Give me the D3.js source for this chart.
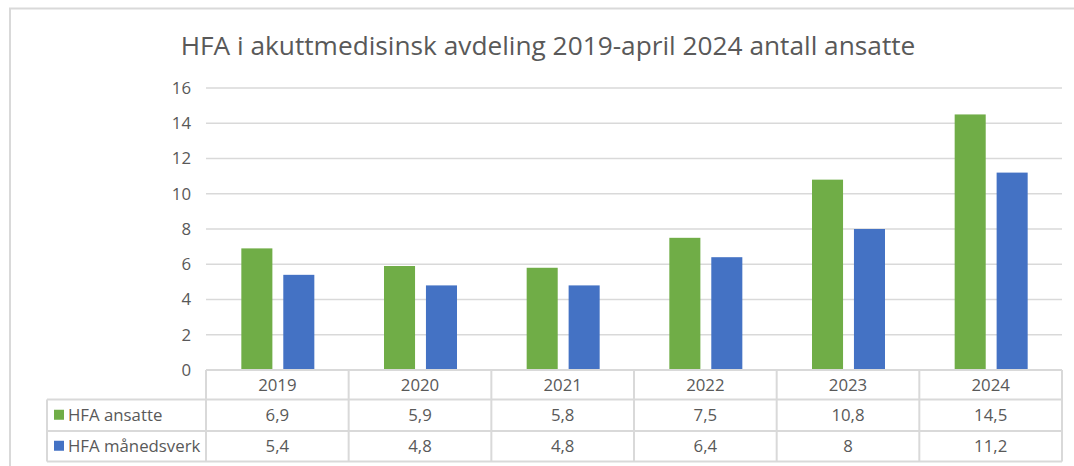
<!DOCTYPE html>
<html>
<head>
<meta charset="utf-8">
<script src="https://cdn.jsdelivr.net/npm/d3@7/dist/d3.min.js"></script>
<style>
  html, body { margin: 0; padding: 0; background: #fff; }
  svg { display: block; font-family: "Open Sans", sans-serif; }
</style>
</head>
<body>
<svg id="chart" width="1074" height="466"></svg>
<script>
const categories = ["2019", "2020", "2021", "2022", "2023", "2024"];
const seriesNames = ["HFA ansatte", "HFA månedsverk"];
const ansatte = [6.9, 5.9, 5.8, 7.5, 10.8, 14.5];
const maanedsverk = [5.4, 4.8, 4.8, 6.4, 8, 11.2];
const yTicks = [0, 2, 4, 6, 8, 10, 12, 14, 16];
const colors = ["#70ad47", "#4472c4"];
const title = "HFA i akuttmedisinsk avdeling 2019-april 2024 antall ansatte";

const series = [ansatte, maanedsverk];
const fmt = v => String(v).replace(".", ",");

const svg = d3.select("#chart");
const textColor = "#595959";
const lineColor = "#d9d9d9";
const fs = "16.8px";

// outer frame
svg.append("rect").attr("x", 10).attr("y", 8.5).attr("width", 1080).attr("height", 480)
  .attr("fill", "none").attr("stroke", lineColor).attr("stroke-width", 2);

const plotLeft = 206, plotRight = 1062;
const y = d3.scaleLinear().domain([0, 16]).range([370, 88]);
const x = d3.scaleBand().domain(categories).range([plotLeft, plotRight]);
const inner = d3.scaleBand().domain(seriesNames).range([0, 73]).paddingInner(0.26);

// title
const t = svg.append("text").attr("x", 548).attr("y", 55).attr("text-anchor", "middle")
  .attr("fill", textColor).style("font-size", "22px").text(title);
const tw = t.node().getComputedTextLength();
t.style("font-size", (22 * 735 / tw) + "px");

// gridlines
svg.append("g").selectAll("line").data(yTicks.filter(d => d > 0)).join("line")
  .attr("x1", plotLeft).attr("x2", plotRight)
  .attr("y1", d => y(d)).attr("y2", d => y(d))
  .attr("stroke", lineColor).attr("stroke-width", 1.5);

// y axis
const yAxis = d3.axisLeft(y).tickValues(yTicks).tickSize(0).tickPadding(0);
const ya = svg.append("g").attr("transform", "translate(191,0)").call(yAxis);
ya.select(".domain").remove();
ya.selectAll("text").attr("fill", textColor).style("font-size", fs)
  .style("font-family", "'Open Sans', sans-serif");

// bars
const groups = svg.append("g").selectAll("g").data(categories).join("g")
  .attr("transform", d => `translate(${x(d) + x.bandwidth() / 2 - 36},0)`);
groups.selectAll("rect").data((d, i) => series.map((s, j) => ({ name: seriesNames[j], v: s[i], j })))
  .join("rect")
  .attr("x", d => inner(d.name))
  .attr("width", inner.bandwidth())
  .attr("y", d => y(d.v))
  .attr("height", d => y(0) - y(d.v))
  .attr("fill", d => colors[d.j]);

// data table
const rowTops = [370, 399.5, 431, 461.5];
const tableLeft = 47;
const tg = svg.append("g");
const sw = 2;
tg.append("line").attr("x1", plotLeft).attr("x2", plotRight).attr("y1", rowTops[0]).attr("y2", rowTops[0])
  .attr("stroke", lineColor).attr("stroke-width", sw);
[1, 2, 3].forEach(k => {
  tg.append("line").attr("x1", tableLeft).attr("x2", plotRight).attr("y1", rowTops[k]).attr("y2", rowTops[k])
    .attr("stroke", lineColor).attr("stroke-width", sw);
});
tg.append("line").attr("x1", tableLeft).attr("x2", tableLeft).attr("y1", rowTops[1]).attr("y2", rowTops[3])
  .attr("stroke", lineColor).attr("stroke-width", sw);
const vx = categories.map(c => x(c)).concat([plotRight]);
tg.selectAll("line.v").data(vx).join("line").attr("class", "v")
  .attr("x1", d => d).attr("x2", d => d).attr("y1", rowTops[0]).attr("y2", rowTops[3])
  .attr("stroke", lineColor).attr("stroke-width", sw);

// header
tg.selectAll("text.h").data(categories).join("text").attr("class", "h")
  .attr("x", d => x(d) + x.bandwidth() / 2).attr("y", (rowTops[0] + rowTops[1]) / 2 + 6)
  .attr("text-anchor", "middle").attr("fill", textColor).style("font-size", fs).text(d => d);

// rows
series.forEach((s, j) => {
  const cy = (rowTops[j + 1] + rowTops[j + 2]) / 2;
  tg.append("rect").attr("x", 54).attr("y", cy - 5.5).attr("width", 10).attr("height", 10)
    .attr("fill", colors[j]);
  tg.append("text").attr("x", 68).attr("y", cy + 6).attr("fill", textColor)
    .style("font-size", fs).text(seriesNames[j]);
  tg.selectAll("text.r" + j).data(s).join("text").attr("class", "r" + j)
    .attr("x", (d, i) => x(categories[i]) + x.bandwidth() / 2).attr("y", cy + 6)
    .attr("text-anchor", "middle").attr("fill", textColor).style("font-size", fs).text(d => fmt(d));
});
</script>
</body>
</html>
